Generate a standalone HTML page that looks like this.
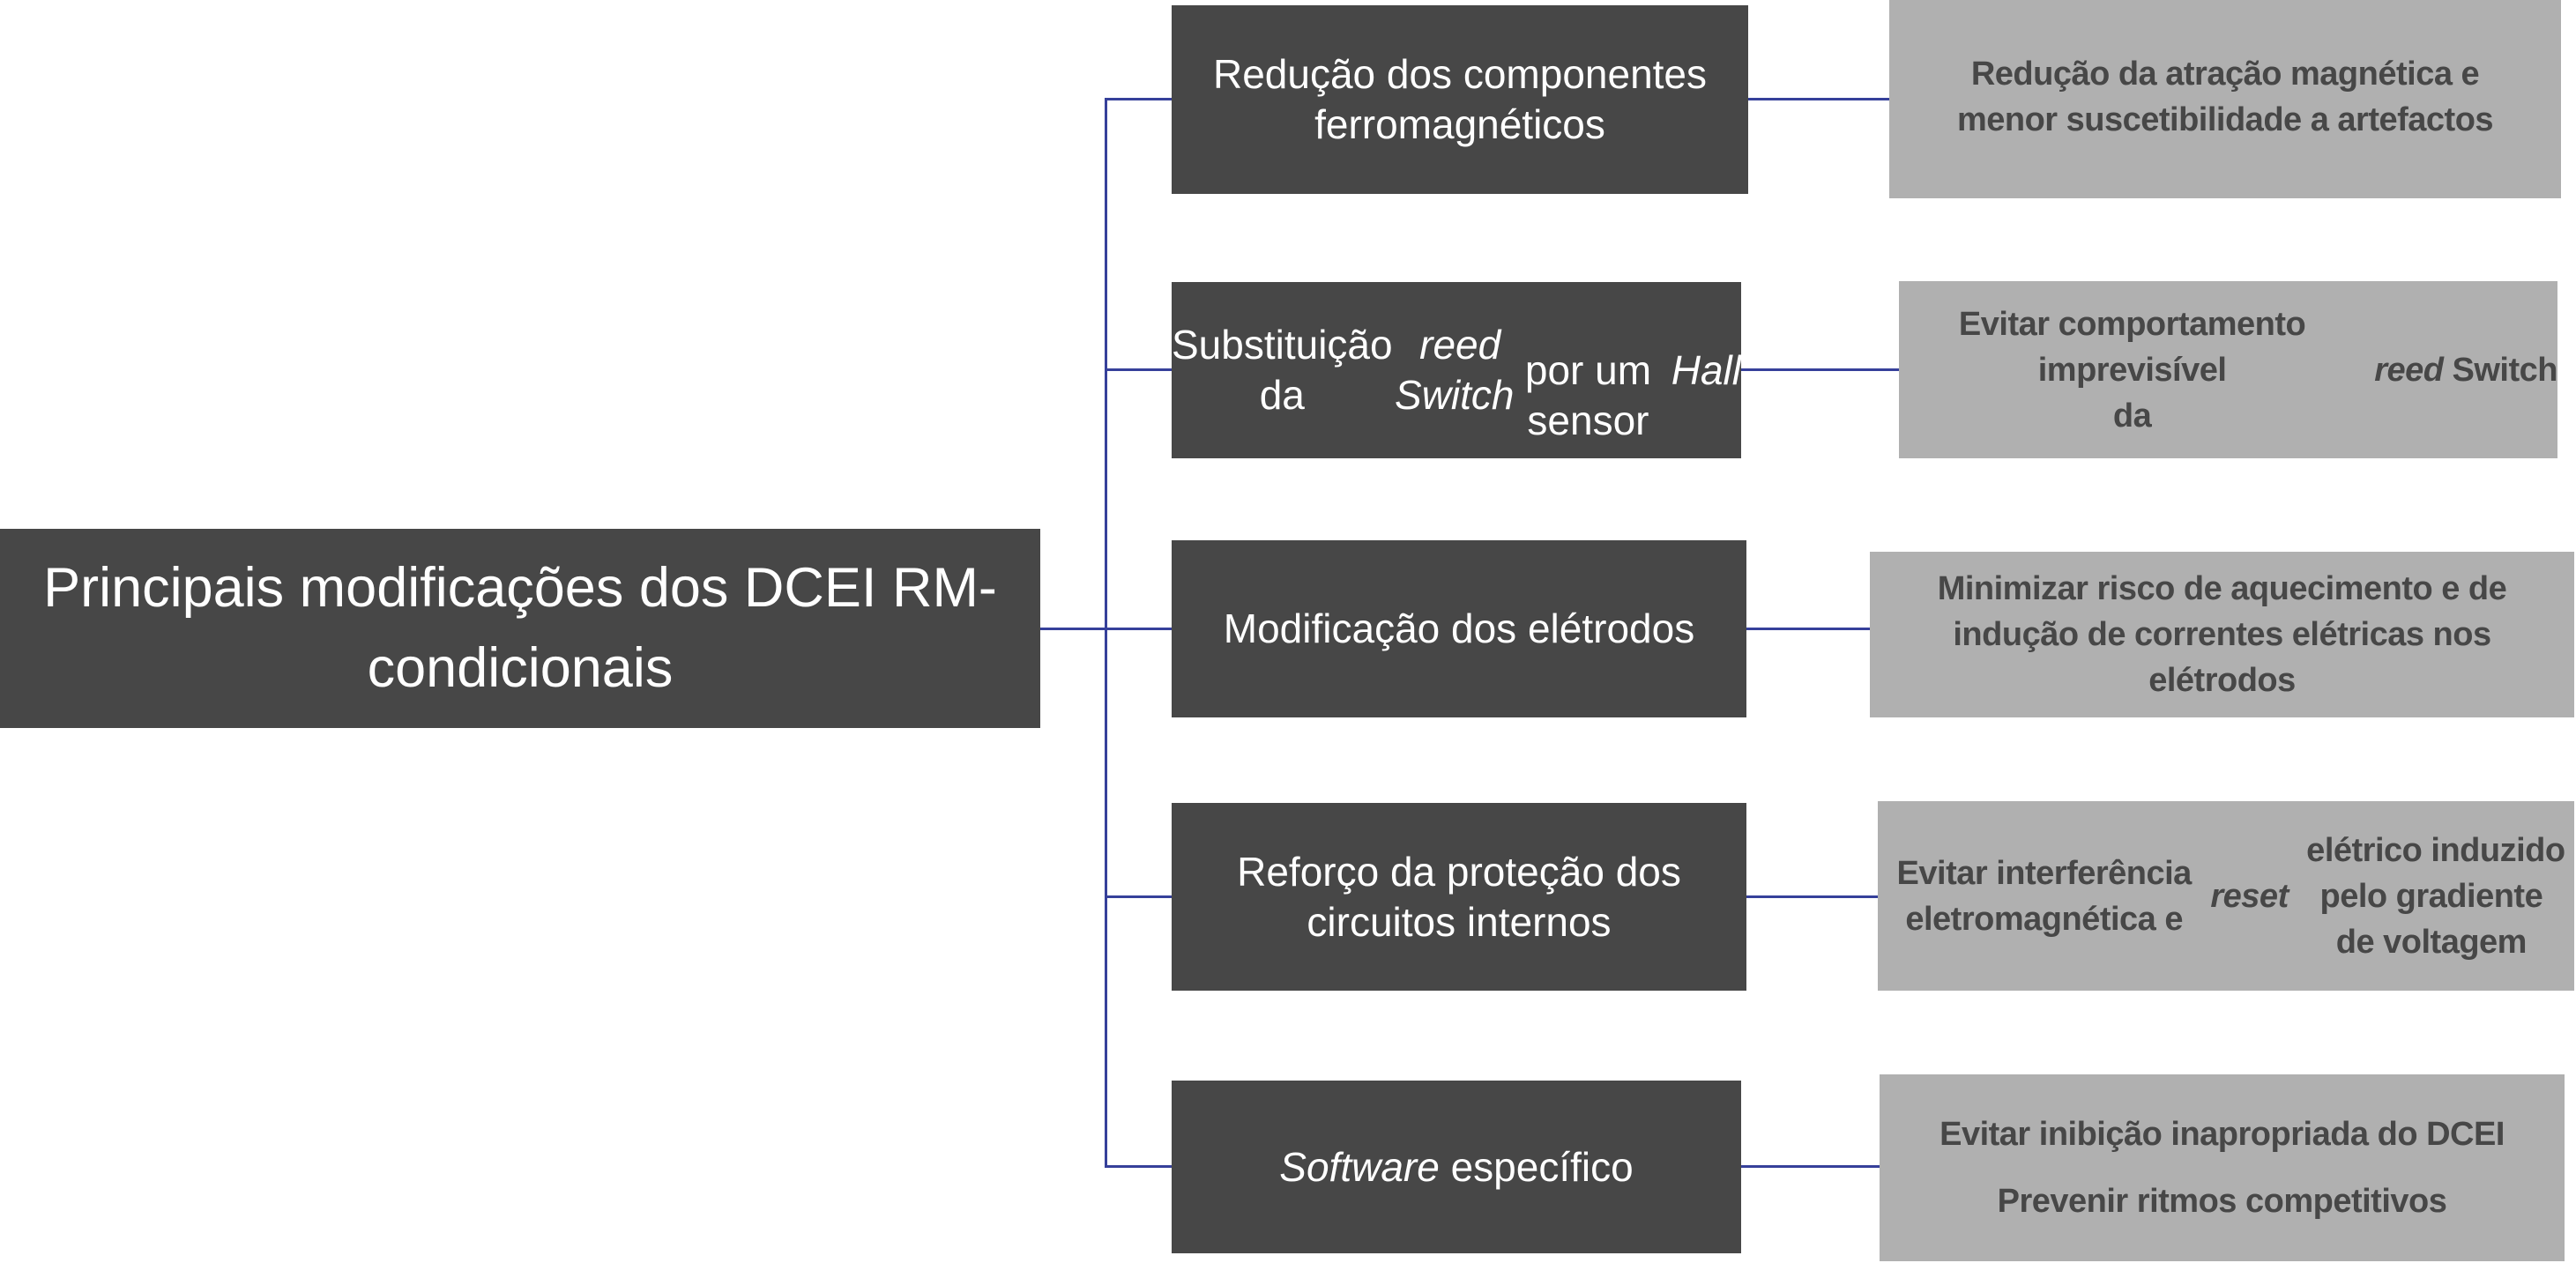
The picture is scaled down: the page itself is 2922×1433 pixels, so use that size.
<!DOCTYPE html>
<html><head><meta charset="utf-8"><style>
html,body{margin:0;padding:0;background:#fff;}
body{width:2922px;height:1433px;position:relative;overflow:hidden;font-family:"Liberation Sans",sans-serif;}
.b{position:absolute;display:flex;align-items:center;justify-content:center;text-align:center;box-sizing:border-box;}
.d{background:#474747;color:#fff;font-size:46px;line-height:57px;}
.g{background:#b0b0b0;color:#474747;font-size:38px;line-height:52px;font-weight:bold;letter-spacing:-0.5px;}
.l{position:absolute;background:#36409a;}
</style></head><body>
<div class="b d" style="left:0;top:600px;width:1180px;height:226px;font-size:63px;line-height:91px;">Principais modificações dos DCEI RM-<br>condicionais</div>

<div class="l" style="left:1180px;top:712px;width:76px;height:3px;"></div>
<div class="l" style="left:1253px;top:111px;width:3px;height:1213px;"></div>
<div class="l" style="left:1253px;top:111px;width:77px;height:3px;"></div>
<div class="l" style="left:1253px;top:418px;width:77px;height:3px;"></div>
<div class="l" style="left:1253px;top:712px;width:77px;height:3px;"></div>
<div class="l" style="left:1253px;top:1016px;width:77px;height:3px;"></div>
<div class="l" style="left:1253px;top:1322px;width:77px;height:3px;"></div>

<div class="l" style="left:1983px;top:111px;width:160px;height:3px;"></div>
<div class="l" style="left:1975px;top:418px;width:180px;height:3px;"></div>
<div class="l" style="left:1981px;top:712px;width:141px;height:3px;"></div>
<div class="l" style="left:1981px;top:1016px;width:150px;height:3px;"></div>
<div class="l" style="left:1975px;top:1322px;width:158px;height:3px;"></div>

<div class="b d" style="left:1329px;top:6px;width:654px;height:214px;align-items:flex-start;padding-top:50px;">Redução dos componentes<br>ferromagnéticos</div>
<div class="b d" style="left:1329px;top:320px;width:646px;height:200px;">Substituição da <i>&nbsp;reed Switch</i><br>por um sensor <i>&nbsp;Hall</i></div>
<div class="b d" style="left:1329px;top:613px;width:652px;height:201px;">Modificação dos elétrodos</div>
<div class="b d" style="left:1329px;top:911px;width:652px;height:213px;">Reforço da proteção dos<br>circuitos internos</div>
<div class="b d" style="left:1329px;top:1226px;width:646px;height:196px;"><span><i>Software</i> específico</span></div>

<div class="b g" style="left:2143px;top:0;width:762px;height:225px;align-items:flex-start;padding-top:58px;">Redução da atração magnética e<br>menor suscetibilidade a artefactos</div>
<div class="b g" style="left:2154px;top:319px;width:747px;height:201px;">Evitar comportamento imprevisível<br>da <i>&nbsp;reed</i>&nbsp;Switch</div>
<div class="b g" style="left:2121px;top:626px;width:799px;height:188px;">Minimizar risco de aquecimento e de<br>indução de correntes elétricas nos<br>elétrodos</div>
<div class="b g" style="left:2130px;top:909px;width:790px;height:215px;">Evitar interferência eletromagnética e<br><i>reset</i>&nbsp;elétrico induzido pelo gradiente<br>de voltagem</div>
<div class="b g" style="left:2132px;top:1219px;width:777px;height:212px;line-height:76px;">Evitar inibição inapropriada do DCEI<br>Prevenir ritmos competitivos</div>
</body></html>
